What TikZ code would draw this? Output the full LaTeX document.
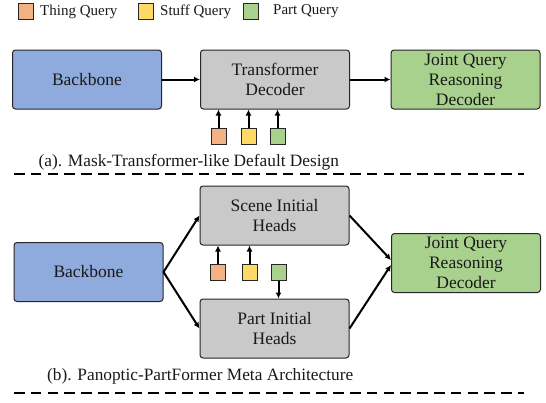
\documentclass[tikz,border=0pt]{standalone}
\usepackage{fontspec}
\setmainfont{Liberation Serif}
\newfontfamily\timesfam{Liberation Serif}
\usetikzlibrary{arrows.meta}
\definecolor{bbblue}{HTML}{8FAADC}
\definecolor{decgray}{HTML}{C9C9C9}
\definecolor{jqgreen}{HTML}{A9D18E}
\definecolor{qorange}{HTML}{F4B183}
\definecolor{qyellow}{HTML}{FFD966}
\definecolor{qgreen}{HTML}{A9D18E}
\begin{document}
\begin{tikzpicture}[x=1pt,y=-1pt,every node/.style={text=black!90},
	blk/.style={draw=black!85,line width=1pt,rounded corners=3pt,minimum width=149pt,minimum height=59pt,align=center,inner sep=0pt,font=\timesfam\fontsize{17.5}{20}\selectfont},
	qbox/.style={draw=black!85,line width=1pt,minimum width=15pt,minimum height=16pt,inner sep=0pt},
	lgtxt/.style={anchor=west,inner sep=0pt,font=\timesfam\fontsize{15}{17}\selectfont},
	capt/.style={anchor=base west,inner sep=0pt,font=\timesfam\fontsize{17.3}{20}\selectfont},
	arr/.style={line width=2pt,-{Latex[length=6pt,width=6pt]}},
	sep/.style={line width=2.5pt,dash pattern=on 10.5pt off 6.3pt}]
	\useasboundingbox (0,0) rectangle (546,402);

%	legend
	\node[qbox,fill=qorange] (lgthing) at (25.5,11) {};
	\node[lgtxt] (lgthingtxt) at (40,11.5) {Thing Query};
	\node[qbox,fill=qyellow] (lgstuff) at (145.5,11) {};
	\node[lgtxt] (lgstufftxt) at (160,11.5) {Stuff Query};
	\node[qbox,fill=qgreen] (lgpart) at (250.5,11) {};
	\node[lgtxt] (lgparttxt) at (273,11.5) {Part Query};

%	(a) default design
	\node[blk,fill=bbblue] (bba) at (87,79.5) {Backbone};
	\node[blk,fill=decgray] (tda) at (275,79.5) {Transformer\\Decoder};
	\node[blk,fill=jqgreen] (jqa) at (465.5,79.5) {Joint Query\\Reasoning\\Decoder};
	\node[qbox,fill=qorange] (qta) at (218.5,136) {};
	\node[qbox,fill=qyellow] (qsa) at (248.5,136) {};
	\node[qbox,fill=qgreen] (qpa) at (277.5,136) {};

	\draw[arr] (bba) -- (tda);
	\draw[arr] (tda) -- (jqa);
	\draw[arr] (qta.north) -- (qta.north |- tda.south);
	\draw[arr] (qsa.north) -- (qsa.north |- tda.south);
	\draw[arr] (qpa.north) -- (qpa.north |- tda.south);

	\node[capt] (capa) at (38.5,166) {(a). Mask-Transformer-like Default Design};
	\draw[sep] (14,174) -- (524,174);

%	(b) meta architecture
	\node[blk,fill=bbblue] (bbb) at (88.5,272) {Backbone};
	\node[blk,fill=decgray] (scene) at (274.5,215.5) {Scene Initial\\Heads};
	\node[blk,fill=decgray] (part) at (274.5,328.5) {Part Initial\\Heads};
	\node[blk,fill=jqgreen] (jqb) at (466,263) {Joint Query\\Reasoning\\Decoder};
	\node[qbox,fill=qorange] (qtb) at (218,272.5) {};
	\node[qbox,fill=qyellow] (qsb) at (249.5,272.5) {};
	\node[qbox,fill=qgreen] (qpb) at (278.5,272.5) {};

	\draw[arr] (bbb.east) -- (scene.west);
	\draw[arr] (bbb.east) -- (part.west);
	\draw[arr] (scene.east) -- ([yshift=3pt]jqb.west);
	\draw[arr] (part.east) -- ([yshift=-2pt]jqb.west);
	\draw[arr] (qtb.north) -- (qtb.north |- scene.south);
	\draw[arr] (qsb.north) -- (qsb.north |- scene.south);
	\draw[arr] (qpb.south) -- (qpb.south |- part.north);

	\node[capt] (capb) at (47,380) {(b). Panoptic-PartFormer Meta Architecture};
	\draw[sep] (14,393) -- (524,393);
\end{tikzpicture}
\end{document}
